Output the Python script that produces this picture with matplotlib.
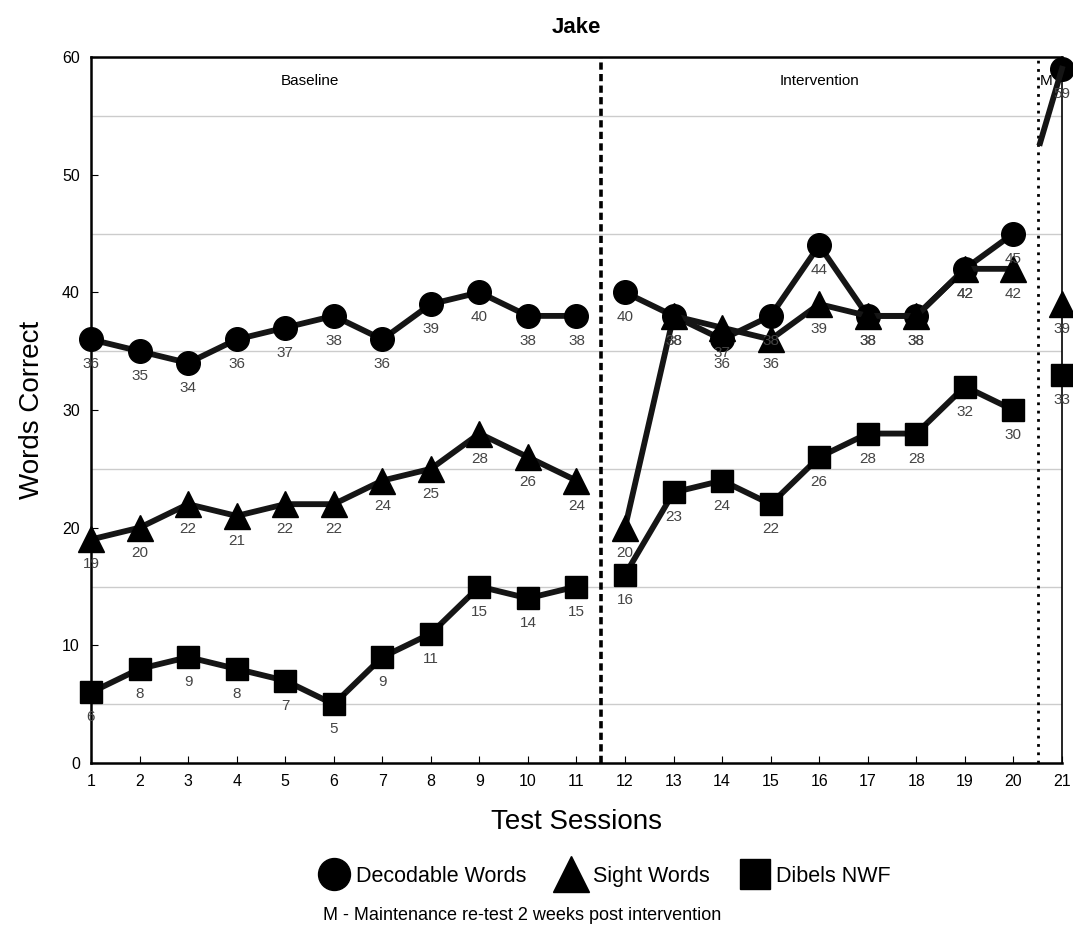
import matplotlib.pyplot as plt
from matplotlib.lines import Line2D

plt.rcParams['font.family'] = ['Liberation Sans', 'DejaVu Sans']

# sessions per phase
baseline_x = [1, 2, 3, 4, 5, 6, 7, 8, 9, 10, 11]
interv_x = [12, 13, 14, 15, 16, 17, 18, 19, 20]
maint_x = [21]

# Decodable Words
dec_base = [36, 35, 34, 36, 37, 38, 36, 39, 40, 38, 38]
dec_int = [40, 38, 36, 38, 44, 38, 38, 42, 45]
dec_maint = [59]

# Sight Words
sight_base = [19, 20, 22, 21, 22, 22, 24, 25, 28, 26, 24]
sight_int = [20, 38, 37, 36, 39, 38, 38, 42, 42]
sight_maint = [39]

# Dibels NWF
dib_base = [6, 8, 9, 8, 7, 5, 9, 11, 15, 14, 15]
dib_int = [16, 23, 24, 22, 26, 28, 28, 32, 30]
dib_maint = [33]

series = [
    ('o', dec_base, dec_int, dec_maint),
    ('^', sight_base, sight_int, sight_maint),
    ('s', dib_base, dib_int, dib_maint),
]
msize = {'o': 17, '^': 19, 's': 16}

fig = plt.figure(figsize=(10.73, 9.32), dpi=100)
ax = fig.add_axes([0.0848, 0.1813, 0.9049, 0.7575])

for y in [5, 15, 25, 35, 45, 55]:
    ax.axhline(y, color='#cccccc', lw=1, zorder=0)

lc = '#151515'
for mk, base, intv, mnt in series:
    for xs, ys in [(baseline_x, base), (interv_x, intv), (maint_x, mnt)]:
        ax.plot(xs, ys, color=lc, lw=4.2, marker=mk, markersize=msize[mk],
                markerfacecolor='black', markeredgecolor='black',
                clip_on=False, zorder=3)
        for x, v in zip(xs, ys):
            ax.annotate(str(v), (x, v), xytext=(0, -18), textcoords='offset points',
                        ha='center', va='center', fontsize=11, color='#444444',
                        zorder=4, annotation_clip=False)

# leftover piece of the line into the maintenance point
t = 0.55
x0 = interv_x[-1] + t * (maint_x[0] - interv_x[-1])
y0 = dec_int[-1] + t * (dec_maint[0] - dec_int[-1])
ax.plot([x0, maint_x[0]], [y0, dec_maint[0]], color=lc, lw=4.2, zorder=3, clip_on=False)

# phase lines
ax.axvline(11.5, color='black', lw=2.6, ls=(0, (2, 1.2)), zorder=2)
ax.axvline(20.5, color='black', lw=2.0, ls=(0, (1, 2)), zorder=2)

ax.text(5.5, 58, 'Baseline', ha='center', va='center', fontsize=11)
ax.text(16, 58, 'Intervention', ha='center', va='center', fontsize=11)
ax.text(20.55, 58, 'M', ha='left', va='center', fontsize=11)

ax.set_xlim(1, 21)
ax.set_ylim(0, 60)
ax.set_xticks(range(1, 22))
ax.set_yticks(range(0, 61, 10))
ax.tick_params(direction='in', length=5, labelsize=11.5, pad=8)
for side in ['left', 'bottom', 'top']:
    ax.spines[side].set_linewidth(1.8)
ax.spines['right'].set_linewidth(1.2)

ax.set_title('Jake', fontsize=16, fontweight='bold', pad=17)
ax.set_ylabel('Words Correct', fontsize=20, labelpad=12)
ax.set_xlabel('Test Sessions', fontsize=20, labelpad=14)

handles = [
    Line2D([], [], ls='none', marker='o', markersize=23, color='black', label='Decodable Words'),
    Line2D([], [], ls='none', marker='^', markersize=26, color='black', label='Sight Words'),
    Line2D([], [], ls='none', marker='s', markersize=22, color='black', label='Dibels NWF'),
]
fig.legend(handles=handles, loc='center', bbox_to_anchor=(0.563, 0.06), ncol=3,
           frameon=False, fontsize=15.5, handletextpad=0.2, columnspacing=1.3,
           handlelength=1.6)

fig.text(0.487, 0.018, 'M - Maintenance re-test 2 weeks post intervention',
         ha='center', va='center', fontsize=13)

fig.savefig('out.png', dpi=100)
